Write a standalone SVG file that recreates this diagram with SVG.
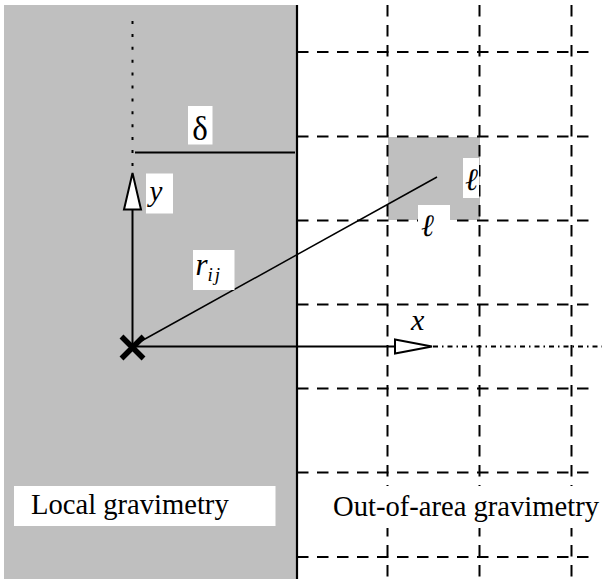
<svg xmlns="http://www.w3.org/2000/svg" width="605" height="579" viewBox="0 0 605 579">
<style>
.gray{fill:#bfbfbf}
.box{fill:#ffffff}
.grid{stroke:#000;stroke-width:2;stroke-dasharray:11.5 8.5;fill:none}
.axis{stroke:#000;stroke-width:2;fill:none}
.lbl{font-family:"Liberation Serif","DejaVu Serif",serif;fill:#000}
.ell{font-family:"DejaVu Serif","Liberation Serif",serif;font-style:italic;fill:#000}
.it{font-style:italic}
</style>
<rect width="605" height="579" fill="#ffffff"/>
<g id="local-area">
<rect class="gray" x="4" y="5" width="293" height="574"/>
</g>
<g id="cell">
<rect class="gray" x="388" y="137" width="92" height="83"/>
</g>
<g id="grid">
<line class="grid" x1="297" y1="52" x2="593" y2="52"/>
<line class="grid" x1="297" y1="136.5" x2="593" y2="136.5"/>
<line class="grid" x1="297" y1="220.5" x2="593" y2="220.5"/>
<line class="grid" x1="297" y1="304.5" x2="593" y2="304.5"/>
<line class="grid" x1="297" y1="388.5" x2="593" y2="388.5"/>
<line class="grid" x1="297" y1="472.5" x2="593" y2="472.5"/>
<line class="grid" x1="297" y1="557" x2="593" y2="557"/>
<line class="grid" x1="387.5" y1="5" x2="387.5" y2="579"/>
<line class="grid" x1="479.5" y1="5" x2="479.5" y2="579"/>
<line class="grid" x1="571.5" y1="5" x2="571.5" y2="579"/>
</g>
<line x1="297" y1="5" x2="297" y2="579" stroke="#000" stroke-width="2.2"/>
<g id="connectors">
<line class="axis" x1="135" y1="152.5" x2="295" y2="152.5"/>
<line x1="132.5" y1="21" x2="132.5" y2="173" stroke="#000" stroke-width="2" stroke-dasharray="3 9.9"/>
<line class="axis" x1="132.5" y1="347" x2="132.5" y2="209"/>
<polygon points="132.5,173 124,209.5 141,209.5" fill="#fff" stroke="#000" stroke-width="2"/>
<line class="axis" x1="132.5" y1="346.5" x2="395" y2="346.5"/>
<polygon points="395,339.5 432,346.5 395,353.5" fill="#fff" stroke="#000" stroke-width="2"/>
<line x1="433" y1="346.5" x2="602" y2="346.5" stroke="#000" stroke-width="2" stroke-dasharray="5 4 1.5 4"/>
<line x1="136" y1="344" x2="437" y2="177" stroke="#000" stroke-width="1.5"/>
</g>
<g id="origin">
<path d="M121.5,336.5 L143.5,358.5 M143.5,336.5 L121.5,358.5" stroke="#000" stroke-width="5.5" stroke-linecap="butt"/>
</g>
<g id="label-delta">
<rect class="box" x="188" y="106" width="24.5" height="38.5"/>
<text class="lbl" x="200" y="140" font-size="33" text-anchor="middle">δ</text>
</g>
<g id="label-y">
<rect class="box" x="146" y="173.5" width="27" height="40"/>
<text class="lbl it" x="149.5" y="201" font-size="29">y</text>
</g>
<g id="label-rij">
<rect class="box" x="193" y="250" width="41.5" height="40"/>
<text class="lbl it" x="195.5" y="275" font-size="31">r<tspan font-size="19" dy="6" letter-spacing="2">ij</tspan></text>
</g>
<g id="label-l-right">
<rect class="box" x="463" y="158" width="16" height="40"/>
<text class="ell" x="465" y="190" font-size="31">ℓ</text>
</g>
<g id="label-l-bottom">
<rect class="box" x="418" y="205" width="32" height="35"/>
<text class="ell" x="421" y="236" font-size="31">ℓ</text>
</g>
<g id="label-x">
<text class="lbl it" x="411" y="330" font-size="30">x</text>
</g>
<g id="local-gravimetry">
<rect class="box" x="14" y="486" width="261.5" height="40"/>
<text class="lbl" x="31" y="514" font-size="28.6">Local gravimetry</text>
</g>
<g id="out-of-area-gravimetry">
<rect class="box" x="330" y="486" width="275" height="42"/>
<text class="lbl" x="333" y="516" font-size="28.6">Out-of-area gravimetry</text>
</g>
</svg>
